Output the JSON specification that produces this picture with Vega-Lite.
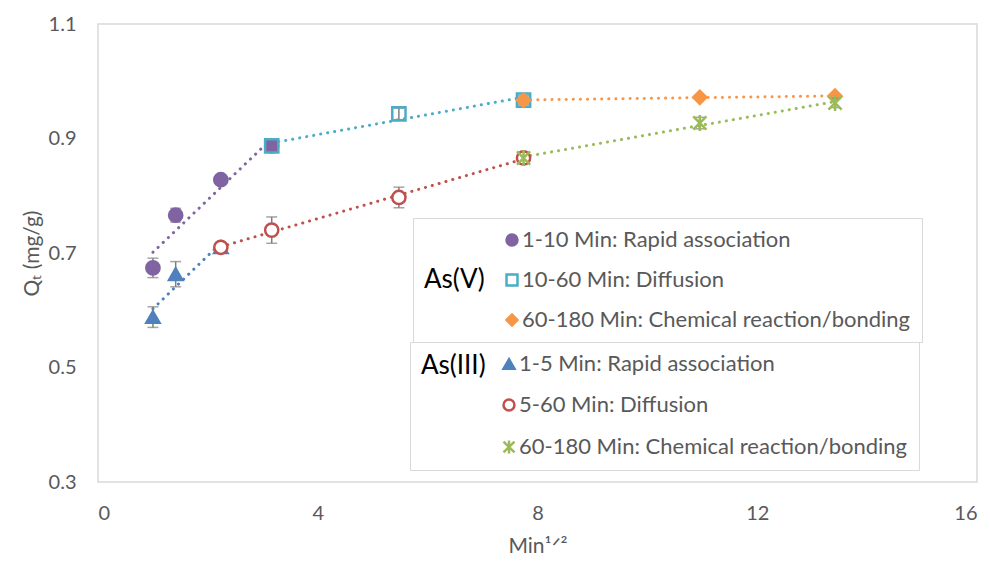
{
  "$schema": "https://vega.github.io/schema/vega-lite/v6.json",
  "width": 879,
  "height": 458,
  "autosize": "none",
  "padding": {"left": 98, "top": 24, "right": 13, "bottom": 81},
  "background": "white",
  "config": {
    "view": {"stroke": "#d9d9d9", "strokeWidth": 1.5},
    "font": "Lato",
    "axis": {"grid": false, "ticks": false, "domain": false, "labelColor": "#595959", "labelFontSize": 20, "labelFont": "Lato", "titleColor": "#595959", "titleFont": "Lato", "titleFontWeight": "normal", "titleFontSize": 21},
    "legend": {"orient": "none", "titleOrient": "left", "titleFontSize": 26, "titleColor": "black", "titleFontWeight": "normal", "titleFont": "Lato", "labelFontSize": 22, "labelColor": "#595959", "labelFont": "Lato", "labelLimit": 600, "symbolSize": 120, "symbolStrokeWidth": 2.5, "padding": 11, "strokeColor": "#d9d9d9", "labelOffset": -1}
  },
  "datasets": {
    "asv": [
      {"series": "1-10 Min: Rapid association", "x": 1.0, "y": 0.674, "err": 0.017},
      {"series": "1-10 Min: Rapid association", "x": 1.414, "y": 0.766, "err": 0.012},
      {"series": "1-10 Min: Rapid association", "x": 2.236, "y": 0.828, "err": 0.005},
      {"series": "1-10 Min: Rapid association", "x": 3.162, "y": 0.887, "err": 0.008},
      {"series": "10-60 Min: Diffusion", "x": 3.162, "y": 0.887, "err": 0.01},
      {"series": "10-60 Min: Diffusion", "x": 5.477, "y": 0.943, "err": 0.01},
      {"series": "10-60 Min: Diffusion", "x": 7.746, "y": 0.967, "err": 0.008},
      {"series": "60-180 Min: Chemical reaction/bonding", "x": 7.746, "y": 0.967, "err": 0.005},
      {"series": "60-180 Min: Chemical reaction/bonding", "x": 10.954, "y": 0.972, "err": 0.003},
      {"series": "60-180 Min: Chemical reaction/bonding", "x": 13.416, "y": 0.974, "err": 0.003}
    ],
    "asiii": [
      {"series": "1-5 Min: Rapid association", "x": 1.0, "y": 0.588, "err": 0.018},
      {"series": "1-5 Min: Rapid association", "x": 1.414, "y": 0.663, "err": 0.022},
      {"series": "1-5 Min: Rapid association", "x": 2.236, "y": 0.71, "err": 0.006},
      {"series": "5-60 Min: Diffusion", "x": 2.236, "y": 0.71, "err": 0.006},
      {"series": "5-60 Min: Diffusion", "x": 3.162, "y": 0.74, "err": 0.023},
      {"series": "5-60 Min: Diffusion", "x": 5.477, "y": 0.797, "err": 0.018},
      {"series": "5-60 Min: Diffusion", "x": 7.746, "y": 0.866, "err": 0.01},
      {"series": "60-180 Min: Chemical reaction/bonding ", "x": 7.746, "y": 0.866, "err": 0.006},
      {"series": "60-180 Min: Chemical reaction/bonding ", "x": 10.954, "y": 0.927, "err": 0.01},
      {"series": "60-180 Min: Chemical reaction/bonding ", "x": 13.416, "y": 0.962, "err": 0.008}
    ]
  },
  "resolve": {"scale": {"fill": "independent", "stroke": "independent", "shape": "independent", "color": "independent"}},
  "encoding": {
    "x": {"field": "x", "type": "quantitative", "scale": {"domain": [0, 16], "nice": false, "zero": false}, "axis": {"values": [0, 4, 8, 12, 16], "labelPadding": 21, "title": "Min¹ᐟ²", "titlePadding": 12}},
    "y": {"field": "y", "type": "quantitative", "scale": {"domain": [0.3, 1.1], "nice": false, "zero": false}, "axis": {"values": [0.3, 0.5, 0.7, 0.9, 1.1], "format": ".1f", "labelPadding": 22, "title": "Qₜ (mg/g)", "titlePadding": 6}}
  },
  "layer": [
    {
      "data": {"name": "asv"},
      "layer": [
        {
          "transform": [{"regression": "y", "on": "x", "groupby": ["series"]}],
          "mark": {"type": "line", "strokeWidth": 3, "strokeDash": [0.1, 7], "strokeCap": "round"},
          "encoding": {
            "color": {"field": "series", "type": "nominal", "legend": null, "scale": {"domain": ["60-180 Min: Chemical reaction/bonding", "10-60 Min: Diffusion", "1-10 Min: Rapid association"], "range": ["#F79646", "#4BACC6", "#8064A2"]}}
          }
        },
        {
          "mark": {"type": "errorbar", "ticks": {"size": 11, "color": "#7f7f7f", "strokeWidth": 1.5}, "color": "#7f7f7f", "thickness": 1.5},
          "encoding": {"yError": {"field": "err"}}
        },
        {
          "mark": {"type": "point", "strokeWidth": 2.5, "opacity": 1},
          "encoding": {
            "shape": {"field": "series", "type": "nominal", "scale": {"domain": ["1-10 Min: Rapid association", "10-60 Min: Diffusion", "60-180 Min: Chemical reaction/bonding"], "range": ["circle", "square", "diamond"]},
              "legend": {"title": "As(V)", "legendX": 315, "legendY": 194, "titleAnchor": "middle", "titlePadding": 16, "rowPadding": 18}},
            "fill": {"field": "series", "type": "nominal", "scale": {"domain": ["1-10 Min: Rapid association", "10-60 Min: Diffusion", "60-180 Min: Chemical reaction/bonding"], "range": ["#8064A2", "transparent", "#F79646"]},
              "legend": {"title": "As(V)", "legendX": 315, "legendY": 194, "titleAnchor": "middle", "titlePadding": 16, "rowPadding": 18}},
            "stroke": {"field": "series", "type": "nominal", "scale": {"domain": ["1-10 Min: Rapid association", "10-60 Min: Diffusion", "60-180 Min: Chemical reaction/bonding"], "range": ["#8064A2", "#4BACC6", "#F79646"]},
              "legend": {"title": "As(V)", "legendX": 315, "legendY": 194, "titleAnchor": "middle", "titlePadding": 16, "rowPadding": 18}},
            "size": {"value": 175}
          }
        }
      ]
    },
    {
      "data": {"name": "asiii"},
      "layer": [
        {
          "transform": [{"regression": "y", "on": "x", "groupby": ["series"]}],
          "mark": {"type": "line", "strokeWidth": 3, "strokeDash": [0.1, 7], "strokeCap": "round"},
          "encoding": {
            "color": {"field": "series", "type": "nominal", "legend": null, "scale": {"domain": ["60-180 Min: Chemical reaction/bonding ", "5-60 Min: Diffusion", "1-5 Min: Rapid association"], "range": ["#9BBB59", "#C0504D", "#4F81BD"]}}
          }
        },
        {
          "mark": {"type": "errorbar", "ticks": {"size": 11, "color": "#7f7f7f", "strokeWidth": 1.5}, "color": "#7f7f7f", "thickness": 1.5},
          "encoding": {"yError": {"field": "err"}}
        },
        {
          "mark": {"type": "point", "strokeWidth": 2.5, "opacity": 1},
          "encoding": {
            "shape": {"field": "series", "type": "nominal", "scale": {"domain": ["1-5 Min: Rapid association", "5-60 Min: Diffusion", "60-180 Min: Chemical reaction/bonding "], "range": ["triangle-up", "circle", "M-1,-1L1,1M-1,1L1,-1M0,-1.2L0,1.2"]},
              "legend": {"title": "As(III)", "legendX": 312, "legendY": 318, "titleAnchor": "start", "titlePadding": 12, "rowPadding": 19}},
            "fill": {"field": "series", "type": "nominal", "scale": {"domain": ["1-5 Min: Rapid association", "5-60 Min: Diffusion", "60-180 Min: Chemical reaction/bonding "], "range": ["#4F81BD", "white", "transparent"]},
              "legend": {"title": "As(III)", "legendX": 312, "legendY": 318, "titleAnchor": "start", "titlePadding": 12, "rowPadding": 19}},
            "stroke": {"field": "series", "type": "nominal", "scale": {"domain": ["1-5 Min: Rapid association", "5-60 Min: Diffusion", "60-180 Min: Chemical reaction/bonding "], "range": ["#4F81BD", "#C0504D", "#9BBB59"]},
              "legend": {"title": "As(III)", "legendX": 312, "legendY": 318, "titleAnchor": "start", "titlePadding": 12, "rowPadding": 19}},
            "size": {"value": 175}
          }
        }
      ]
    }
  ]
}
